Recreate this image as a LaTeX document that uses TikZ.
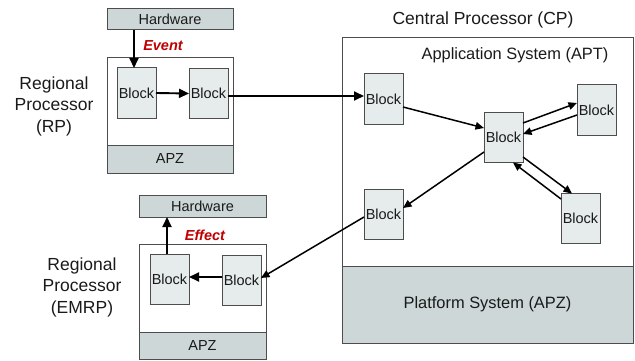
\documentclass[tikz,border=0pt]{standalone}
\usepackage{fontspec}
\setmainfont{Liberation Sans}
\usetikzlibrary{arrows.meta,calc}
\definecolor{bandgray}{HTML}{CDD7D7}
\definecolor{blockfill}{HTML}{E6EBEB}
\definecolor{edgegray}{HTML}{4D4D4D}
\definecolor{evred}{HTML}{C00000}
\definecolor{txt}{HTML}{1A1A1A}
\begin{document}
\begin{tikzpicture}[x=1pt,y=-1pt,
  box/.style={draw=edgegray,line width=1pt,inner sep=0pt,outer sep=0pt,text=txt},
  frame/.style={box,fill=white},
  blockbox/.style={box,fill=blockfill,minimum width=39pt,minimum height=50pt,font=\fontsize{14.5}{16}\selectfont},
  bandbox/.style={box,fill=bandgray,font=\fontsize{14.5}{16}\selectfont},
  biglabel/.style={align=center,text=txt,font=\fontsize{17.5}{21.5}\selectfont},
  midlabel/.style={text=txt,font=\fontsize{16.4}{19}\selectfont},
  evlabel/.style={text=evred,font=\fontsize{14.5}{16}\selectfont\bfseries\itshape},
  arr/.style={-{Triangle[length=8.5pt,width=7.5pt]},line width=1.5pt},
  thickarr/.style={-{Triangle[length=10pt,width=9pt]},line width=1.9pt},
]
\useasboundingbox (0,0) rectangle (635,361);

% ---------- Regional Processor (RP) ----------
\node[bandbox,minimum width=126pt,minimum height=21pt] (hw1) at (170,19.5) {Hardware};
\node[frame,minimum width=126pt,minimum height=115pt] (rp) at (170,115.5) {};
\node[bandbox,minimum width=126pt,minimum height=28pt] (rpapz) at (170,159) {APZ};
\node[blockbox] (b1) at (136.5,93) {Block};
\node[blockbox] (b2) at (208.5,93.5) {Block};
\node[evlabel] (event) at (163,46) {Event};
\node[biglabel] (rplab) at (54,106) {Regional\\Processor\\(RP)};

% ---------- Regional Processor (EMRP) ----------
\node[bandbox,minimum width=127pt,minimum height=22pt] (hw2) at (202.5,206) {Hardware};
\node[frame,minimum width=127pt,minimum height=115pt] (emrp) at (202.5,301.5) {};
\node[bandbox,minimum width=127pt,minimum height=27pt] (emapz) at (202.5,345.5) {APZ};
\node[blockbox] (bl) at (169.5,279) {Block};
\node[blockbox] (br) at (241.5,280) {Block};
\node[evlabel] (effect) at (205,235) {Effect};
\node[biglabel] (emlab) at (82,287) {Regional\\Processor\\(EMRP)};

% ---------- Central Processor (CP) ----------
\node[biglabel] (cptitle) at (483,20) {Central Processor (CP)};
\node[frame,minimum width=291pt,minimum height=305pt] (cp) at (487.5,190.5) {};
\node[bandbox,minimum width=291pt,minimum height=77pt,font=\fontsize{16.4}{19}\selectfont] (cpapz) at (487.5,304.5) {Platform System (APZ)};
\node[midlabel] (apt) at (515,55) {Application System (APT)};
\node[blockbox] (A) at (383.5,99) {Block};
\node[blockbox] (B) at (503.5,137.5) {Block};
\node[blockbox] (C) at (596.5,110) {Block};
\node[blockbox] (D) at (383.5,214) {Block};
\node[blockbox] (E) at (580.5,218.5) {Block};

% ---------- connectors ----------
\draw[thickarr] ([xshift=-2.5pt]b1.north |- hw1.south) -- ([xshift=-2.5pt]b1.north);
\draw[thickarr] (b1.east) -- (b2.west);
\draw[thickarr] ([yshift=-2.5pt]b2.east) -- ([yshift=-2.5pt]b2.east -| A.west);
\draw[arr] ([yshift=-8pt]A.east) -- ([yshift=9.5pt]B.west);
\draw[arr] ([yshift=-14.5pt]B.west) -- ([yshift=6pt]D.east);
\draw[arr] ([yshift=-3pt]D.west) -- ([yshift=2pt]br.east);
\draw[thickarr] ([yshift=3pt]br.west) -- ([yshift=3pt]br.west -| bl.east);
\draw[thickarr] ([xshift=-2.5pt]bl.north) -- ([xshift=-2.5pt]bl.north |- hw2.south);
\draw[arr] ([yshift=14.5pt]B.east) -- ([yshift=7pt]C.west);
\draw[arr] ([yshift=-5pt]C.west) -- ([yshift=3.5pt]B.east);
\draw[arr] ([yshift=-19.5pt]B.east) -- ([xshift=-8.5pt]E.north);
\draw[arr] ([yshift=19.5pt]E.west) -- ([xshift=9.5pt]B.south);
\end{tikzpicture}
\end{document}
